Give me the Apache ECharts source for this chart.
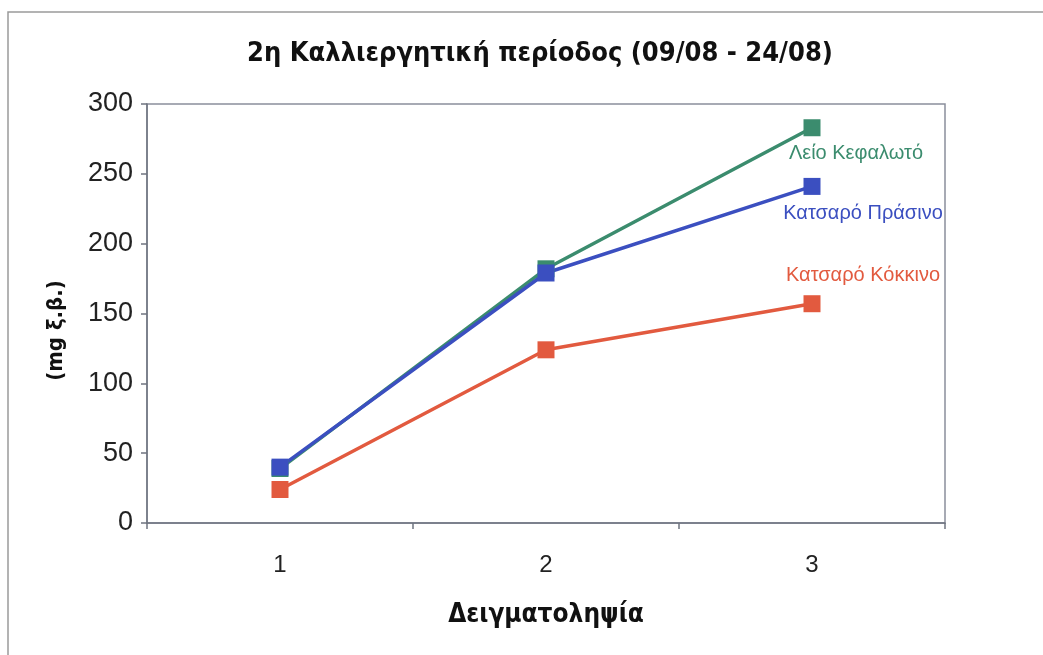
<!DOCTYPE html>
<html>
<head>
<meta charset="utf-8">
<script src="https://cdn.jsdelivr.net/npm/echarts@6/dist/echarts.min.js"></script>
<style>
  html, body { margin: 0; padding: 0; background: #ffffff; }
  #chart { width: 1043px; height: 655px; }
</style>
</head>
<body>
<div id="chart"></div>
<script>
// Sampling rounds on the x axis
const categories = ['1', '2', '3'];

// Dry-weight values (mg) for each lettuce variety
const leioKefaloto = [39, 182, 283];
const katsaroPrasino = [40, 179, 241];
const katsaroKokkino = [24, 124, 157];

const seriesNames = ['Λείο Κεφαλωτό', 'Κατσαρό Πράσινο', 'Κατσαρό Κόκκινο'];
const seriesColors = ['#3b8c6e', '#3b4fc0', '#e25a3f'];
const labelOffsets = [[44, 26], [51, 27], [51, -28]];

const fontFamily = '"Liberation Sans", Arial, sans-serif';
const boldFamily = '"DejaVu Sans Condensed", "Liberation Sans", Arial, sans-serif';

function buildSeries(name, values, color, offset) {
  return {
    name: name,
    type: 'line',
    data: values.map((v, i) => {
      if (i !== values.length - 1) return v;
      return {
        value: v,
        label: {
          show: true,
          position: 'inside',
          offset: offset,
          formatter: name,
          color: color,
          fontSize: 20,
          fontFamily: fontFamily
        }
      };
    }),
    symbol: 'rect',
    symbolSize: 17,
    lineStyle: { color: color, width: 3.5 },
    itemStyle: { color: color },
    z: 3
  };
}

const chart = echarts.init(document.getElementById('chart'), null, { renderer: 'canvas' });

chart.setOption({
  backgroundColor: '#ffffff',
  animation: false,
  title: {
    text: '2η Καλλιεργητική περίοδος (09/08 - 24/08)',
    left: 535,
    top: 35,
    textAlign: 'center',
    textStyle: {
      fontFamily: boldFamily,
      fontWeight: 'bold',
      fontSize: 27,
      color: '#111111'
    }
  },
  graphic: [
    {
      type: 'rect',
      shape: { x: 8, y: 12, width: 1040, height: 650 },
      style: { fill: 'none', stroke: '#9a9a9a', lineWidth: 1.5 },
      silent: true
    }
  ],
  grid: {
    left: 147,
    right: 98,
    top: 104,
    bottom: 132,
    show: true,
    borderColor: '#8a8f9c',
    borderWidth: 1.5,
    backgroundColor: 'transparent'
  },
  xAxis: {
    type: 'category',
    data: categories,
    boundaryGap: true,
    name: 'Δειγματοληψία',
    nameLocation: 'middle',
    nameGap: 79,
    nameTextStyle: {
      fontFamily: boldFamily,
      fontWeight: 'bold',
      fontSize: 26,
      color: '#111111'
    },
    axisLine: { lineStyle: { color: '#6f7480', width: 1.5 } },
    axisTick: { show: true, length: 6, alignWithLabel: false, lineStyle: { color: '#6f7480', width: 1.5 } },
    axisLabel: {
      fontFamily: fontFamily,
      fontSize: 24,
      color: '#222222',
      margin: 30
    },
    splitLine: { show: false }
  },
  yAxis: {
    type: 'value',
    min: 0,
    max: 300,
    interval: 50,
    name: '(mg ξ.β.)',
    nameLocation: 'middle',
    nameRotate: 90,
    nameGap: 80,
    nameTextStyle: {
      fontFamily: boldFamily,
      fontWeight: 'bold',
      fontSize: 22,
      color: '#111111',
      padding: [0, 0, 0, -34]
    },
    axisLine: { show: true, lineStyle: { color: '#6f7480', width: 1.5 } },
    axisTick: { show: true, length: 6, lineStyle: { color: '#6f7480', width: 1.5 } },
    axisLabel: {
      fontFamily: fontFamily,
      fontSize: 27,
      color: '#222222',
      margin: 14
    },
    splitLine: { show: false }
  },
  series: [
    buildSeries(seriesNames[0], leioKefaloto, seriesColors[0], labelOffsets[0]),
    buildSeries(seriesNames[1], katsaroPrasino, seriesColors[1], labelOffsets[1]),
    buildSeries(seriesNames[2], katsaroKokkino, seriesColors[2], labelOffsets[2])
  ]
});
</script>
</body>
</html>
